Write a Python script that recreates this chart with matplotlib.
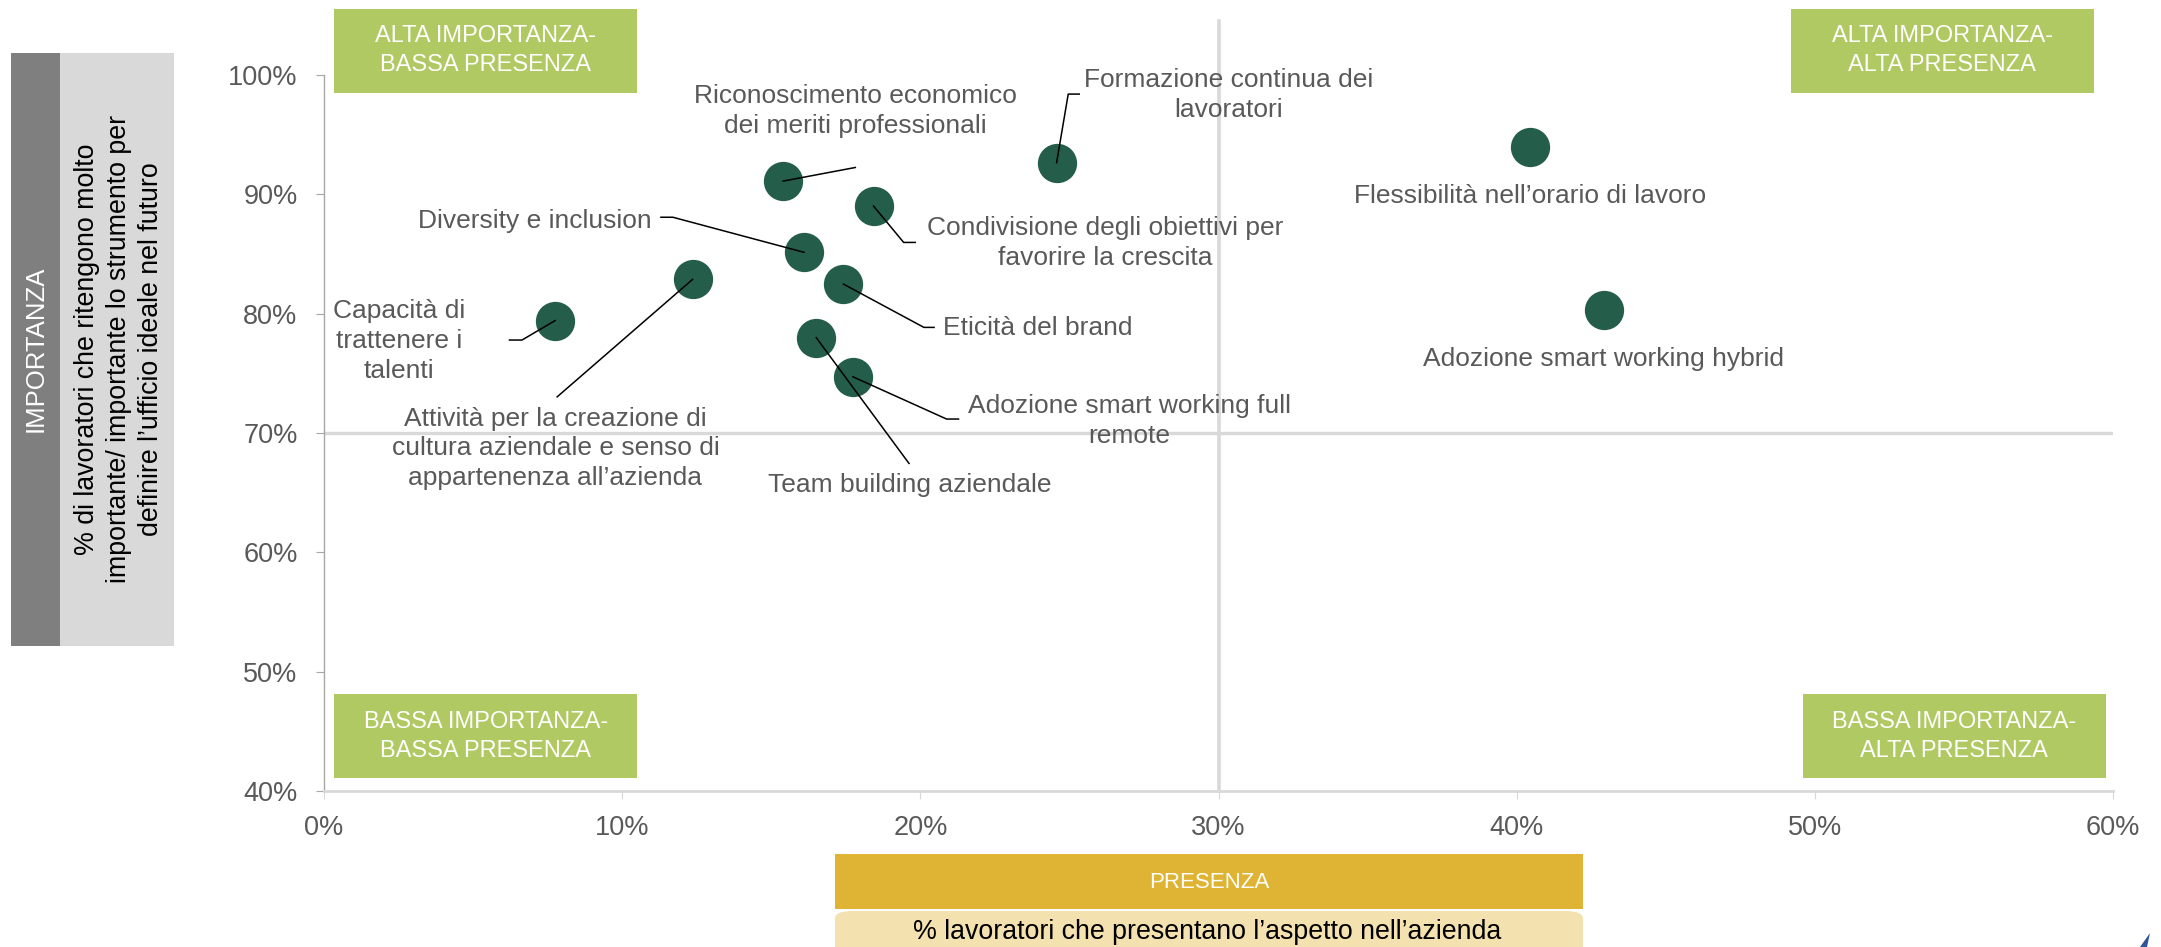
import matplotlib
matplotlib.use('Agg')
import matplotlib.pyplot as plt
from matplotlib.patches import Rectangle, FancyBboxPatch, Polygon

plt.rcParams['font.family'] = ['Liberation Sans', 'DejaVu Sans']

# dati (%)
aspetti = ['Capacità di\ntrattenere i\ntalenti',
           'Attività per la creazione di\ncultura aziendale e senso di\nappartenenza all\u2019azienda',
           'Riconoscimento economico\ndei meriti professionali',
           'Diversity e inclusion',
           'Condivisione degli obiettivi per\nfavorire la crescita',
           'Eticità del brand',
           'Team building aziendale',
           'Adozione smart working full\nremote',
           'Formazione continua dei\nlavoratori',
           'Flessibilità nell\u2019orario di lavoro',
           'Adozione smart working hybrid']
presenza = [7.75, 12.36, 15.40, 16.10, 18.43, 17.42, 16.51, 17.74, 24.57, 40.46, 42.92]
importanza = [79.42, 82.87, 91.11, 85.14, 89.02, 82.48, 77.99, 74.71, 92.65, 93.97, 80.33]
x_ticks = [0, 10, 20, 30, 40, 50, 60]
y_ticks = [40, 50, 60, 70, 80, 90, 100]
quadranti = ['ALTA IMPORTANZA-\nBASSA PRESENZA', 'ALTA IMPORTANZA-\nALTA PRESENZA',
             'BASSA IMPORTANZA-\nBASSA PRESENZA', 'BASSA IMPORTANZA-\nALTA PRESENZA']

# posizione etichette: (x testo, y testo, allineamento, punti della linea guida)
etichette = [
    (2.53, 77.7, 'center', [(6.64, 77.79), (6.22, 77.79)]),
    (7.76, 68.71, 'center', [(7.82, 73.03)]),
    (17.81, 97.0, 'center', [(17.82, 92.25)]),
    (11.0, 87.8, 'right', [(11.70, 88.08), (11.3, 88.08)]),
    (26.2, 85.9, 'center', [(19.44, 85.97), (19.83, 85.97)]),
    (20.77, 78.78, 'left', [(20.12, 78.85), (20.46, 78.85)]),
    (19.64, 65.63, 'center', [(19.62, 67.45)]),
    (27.0, 71.0, 'center', [(20.88, 71.17), (21.28, 71.17)]),
    (30.35, 98.3, 'center', [(24.96, 98.4), (25.33, 98.4)]),
    (40.46, 89.85, 'center', []),
    (42.92, 76.2, 'center', []),
]
box_quadranti = [(0.35, 98.5), (49.2, 98.5), (0.35, 41.06), (49.6, 41.06)]

W, H = 2161, 947
fig = plt.figure(figsize=(W / 100, H / 100), dpi=100)
ax = fig.add_axes([324 / W, 1 - 791 / H, (2113 - 324) / W, (791 - 75) / H])

grigio_testo = '#595959'
verde = '#245E4B'

ax.set_xlim(0, 60)
ax.set_ylim(40, 100)
ax.set_xticks(x_ticks)
ax.set_yticks(y_ticks)
ax.set_xticklabels([f'{v}%' for v in x_ticks])
ax.set_yticklabels([f'{v}%' for v in y_ticks])
ax.tick_params(axis='y', length=6, pad=13, color='#A6A6A6', labelsize=19.5, labelcolor=grigio_testo)
ax.tick_params(axis='x', length=6, pad=11, color='#D9D9D9', labelsize=19.5, labelcolor=grigio_testo)
for s in ['top', 'right']:
    ax.spines[s].set_visible(False)
ax.spines['left'].set_color('#A6A6A6')
ax.spines['left'].set_linewidth(1)
ax.spines['bottom'].set_color('#D9D9D9')
ax.spines['bottom'].set_linewidth(2)

# linee dei quadranti
ax.axvline(30, ymin=0, ymax=(104.55 - 40) / 60, color='#D9D9D9', lw=2.6, clip_on=False, zorder=1)
ax.axhline(70, color='#D9D9D9', lw=2.4, zorder=1)

ax.scatter(presenza, importanza, s=800, color=verde, zorder=3, linewidths=0)

for i, (tx, ty, ha, guida) in enumerate(etichette):
    ax.text(tx, ty, aspetti[i], ha=ha, va='center', fontsize=19, color=grigio_testo,
            linespacing=1.3, zorder=4)
    if guida:
        xs = [presenza[i]] + [p[0] for p in guida]
        ys = [importanza[i]] + [p[1] for p in guida]
        ax.plot(xs, ys, color='black', lw=1.1, zorder=4)

for (bx, by), testo in zip(box_quadranti, quadranti):
    ax.add_patch(Rectangle((bx, by), 10.15, 7.05, facecolor='#B0C962', edgecolor='none',
                           clip_on=False, zorder=2))
    ax.text(bx + 5.07, by + 3.52, testo, ha='center', va='center', color='white',
            fontsize=17, linespacing=1.4, zorder=5, clip_on=False)


def fx(px):
    return px / W


def fy(py):
    return 1 - py / H


# pannelli asse y
fig.add_artist(Rectangle((fx(11), fy(646)), fx(60) - fx(11), (646 - 53) / H,
                         transform=fig.transFigure, facecolor='#7F7F7F', edgecolor='none'))
fig.add_artist(Rectangle((fx(60), fy(646)), fx(174) - fx(60), (646 - 53) / H,
                         transform=fig.transFigure, facecolor='#D9D9D9', edgecolor='none'))
fig.text(fx(36), fy(349), 'IMPORTANZA', rotation=90, ha='center', va='center',
         color='white', fontsize=18.5)
fig.text(fx(119), fy(349),
         '% di lavoratori che ritengono molto\nimportante/ importante lo strumento per\ndefinire l\u2019ufficio ideale nel futuro',
         rotation=90, ha='center', va='center', color='black', fontsize=19.3, linespacing=1.3)

# pannelli asse x
fig.add_artist(Rectangle((fx(835), fy(909)), fx(1583) - fx(835), (909 - 854) / H,
                         transform=fig.transFigure, facecolor='#DFB434', edgecolor='none'))
fig.add_artist(FancyBboxPatch((fx(835), fy(980)), fx(1583) - fx(835), (980 - 911) / H,
                              boxstyle='round,pad=0,rounding_size=0.008',
                              transform=fig.transFigure, facecolor='#F3E1B0', edgecolor='none'))
fig.text(fx(1209), fy(882), 'PRESENZA', ha='center', va='center', color='white', fontsize=16)
fig.text(fx(1207), fy(932), '% lavoratori che presentano l\u2019aspetto nell\u2019azienda',
         ha='center', va='center', color='black', fontsize=19.3)

# piccolo segno blu in basso a destra
fig.add_artist(Polygon([(fx(2140), fy(947)), (fx(2150), fy(933)), (fx(2147), fy(947))],
                       closed=True, transform=fig.transFigure, facecolor='#2F5597', edgecolor='none'))

fig.savefig('out.png', dpi=100)
